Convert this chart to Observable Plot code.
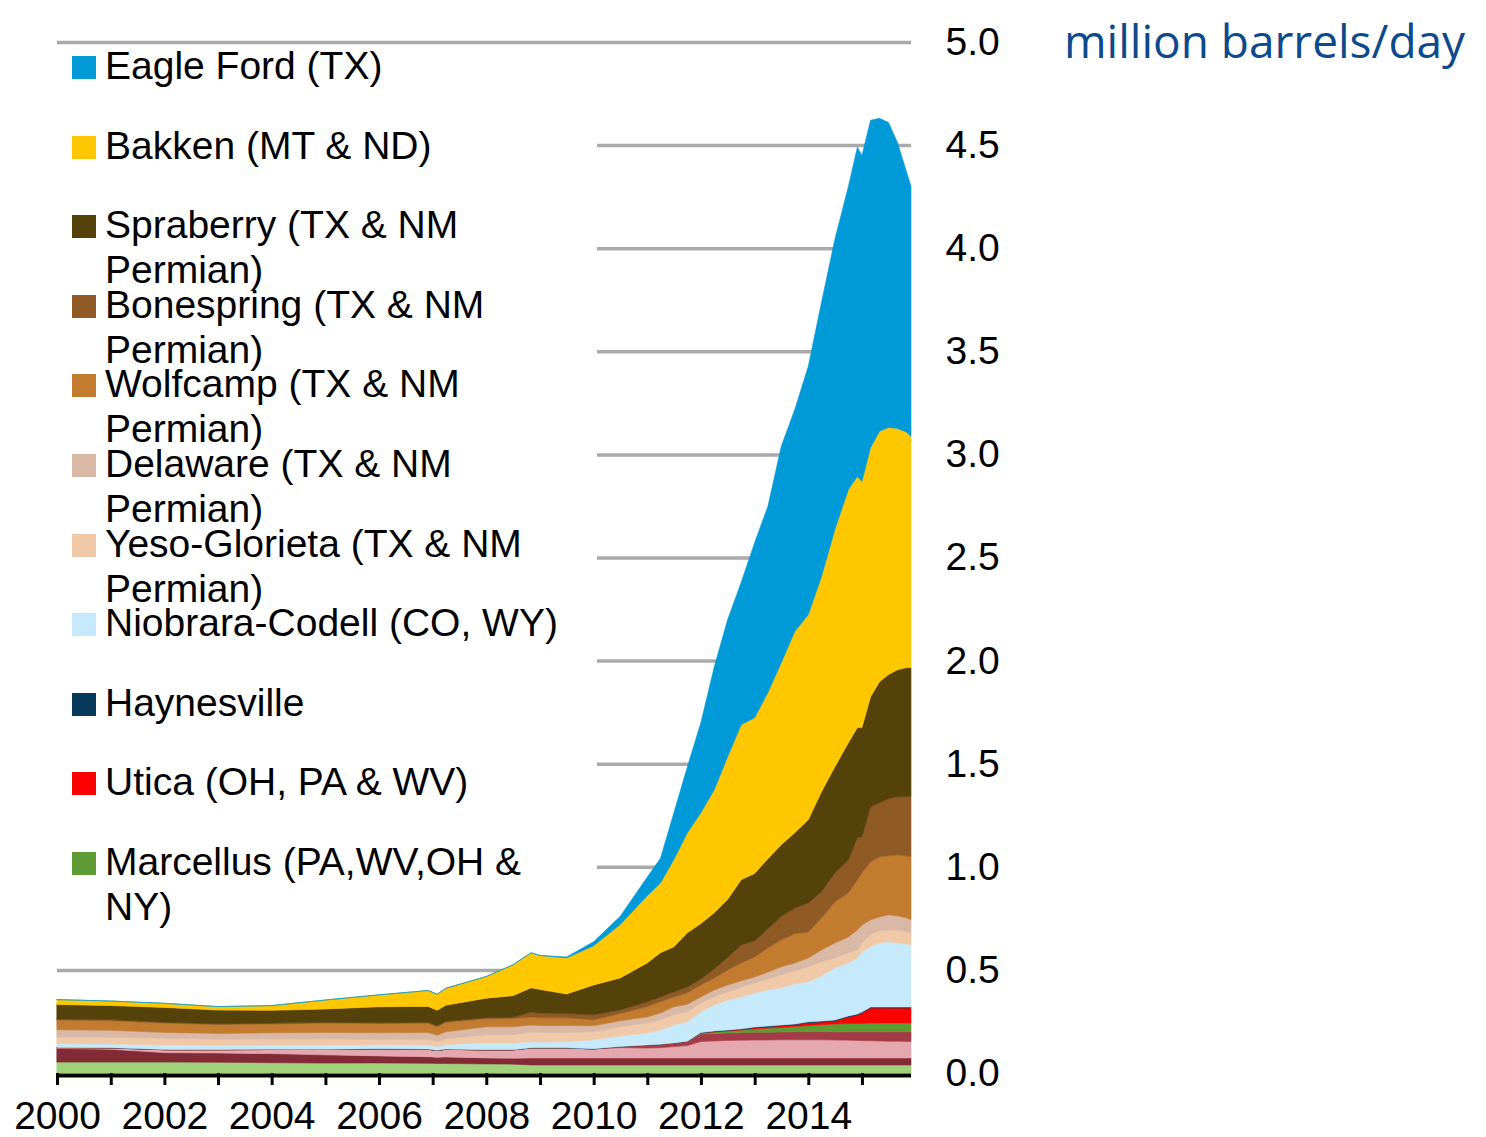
<!DOCTYPE html>
<html>
<head>
<meta charset="utf-8">
<script src="https://cdn.jsdelivr.net/npm/d3@7"></script>
<script src="https://cdn.jsdelivr.net/npm/@observablehq/plot@0.6"></script>
<style>
  body { margin: 0; background: #fff; }
  #wrap { position: relative; width: 1486px; height: 1137px; overflow: hidden; font-family: "Liberation Sans", Arial, sans-serif; }
  #legend { position: absolute; left: 57px; top: 46px; width: 540px; height: 890px; background: #fff; }
  .sw { position: absolute; left: 15px; width: 24px; height: 23px; }
  .lab { position: absolute; left: 48px; width: 475px; font-size: 39px; line-height: 45px; color: #000; }
  #unit { position: absolute; left: 1064px; top: 17px; font-family: "Open Sans", sans-serif; font-size: 46px; line-height: 46px; color: #0c4a8c; white-space: nowrap; }
</style>
</head>
<body>
<div id="wrap">
  <div id="chart"></div>
  <div id="legend"></div>
  <div id="unit">million barrels/day</div>
</div>
<script>
// monthly dates of the sampled points
const dates = ["2000-01","2001-01","2002-01","2003-01","2004-01","2005-01","2006-01","2006-12","2007-02","2007-04",
  "2008-01","2008-07","2008-11","2009-01","2009-07","2010-01","2010-07","2011-01","2011-04","2011-07",
  "2011-10","2012-01","2012-04","2012-07","2012-10","2013-01","2013-04","2013-07","2013-10","2014-01",
  "2014-04","2014-07","2014-10","2014-12","2015-01","2015-03","2015-05","2015-07","2015-09","2015-11","2015-12"];

// stack order, bottom to top
const seriesNames = ["Monterey (CA)","Austin Chalk (LA & TX)","Woodford (OK)","Granite Wash (OK & TX)",
  "Marcellus (PA,WV,OH & NY)","Utica (OH, PA & WV)","Haynesville","Niobrara-Codell (CO, WY)",
  "Yeso-Glorieta (TX & NM Permian)","Delaware (TX & NM Permian)","Wolfcamp (TX & NM Permian)",
  "Bonespring (TX & NM Permian)","Spraberry (TX & NM Permian)","Bakken (MT & ND)","Eagle Ford (TX)"];
const seriesColors = ["#9fd27b","#822a36","#e5a8ae","#a63b48","#5f9b34","#ff0000","#073a5a","#c6eafb",
  "#f0caa8","#d9b8a6","#c27b2f","#8f5a25","#55410a","#fec700","#009ad8"];

// million barrels/day
const monterey = [.053,.053,.053,.052,.05,.048,.049,.047,.046,.046,.044,.043,.039,.039,.039,.039,.039,.039,.039,.039,
  .039,.039,.039,.039,.039,.039,.039,.039,.039,.039,.039,.039,.039,.039,.039,.039,.039,.039,.039,.039,.039];
const austinChalk = [.066,.062,.046,.045,.044,.04,.034,.032,.03,.032,.029,.029,.034,.034,.034,.034,.034,.034,.034,.034,
  .034,.034,.034,.034,.034,.034,.034,.034,.034,.034,.034,.034,.034,.034,.034,.034,.034,.034,.034,.034,.034];
const woodford = [.004,.007,.014,.016,.02,.026,.034,.036,.033,.037,.039,.04,.049,.048,.048,.044,.05,.048,.05,.055,
  .06,.08,.082,.085,.086,.087,.087,.088,.088,.088,.088,.087,.086,.085,.084,.083,.082,.081,.081,.08,.08];
const graniteWash = [0,0,0,0,0,0,0,0,0,0,0,0,0,0,0,0,.005,.014,.016,.017,
  .02,.036,.036,.036,.037,.038,.038,.038,.039,.039,.04,.04,.041,.042,.043,.044,.045,.046,.046,.047,.047];
const marcellus = [0,0,0,0,0,0,0,0,0,0,0,0,0,0,0,0,0,0,0,0,
  0,.005,.008,.01,.012,.015,.02,.022,.025,.03,.033,.038,.04,.04,.04,.042,.043,.043,.043,.043,.043];
const utica = [0,0,0,0,0,0,0,0,0,0,0,0,0,0,0,0,0,0,0,0,
  0,0,.002,.002,.003,.006,.006,.008,.009,.013,.013,.014,.032,.041,.051,.073,.072,.072,.072,.072,.072];
const haynesville = [.001,.001,.001,.001,.001,.001,.001,.001,.001,.001,.001,.001,.001,.001,.001,.001,.001,.001,.001,.001,
  .001,.002,.003,.003,.003,.004,.004,.004,.004,.005,.005,.005,.005,.005,.005,.005,.005,.005,.005,.005,.005];
const niobrara = [.018,.018,.022,.02,.02,.02,.019,.02,.017,.022,.033,.033,.028,.028,.03,.043,.05,.058,.068,.087,
  .095,.10,.126,.145,.155,.165,.175,.18,.194,.194,.219,.253,.257,.272,.291,.292,.311,.316,.311,.306,.301];
const yeso = [.032,.032,.032,.03,.03,.03,.024,.026,.024,.027,.039,.04,.048,.046,.044,.039,.045,.049,.05,.049,
  .048,.044,.039,.039,.048,.049,.053,.063,.063,.073,.068,.048,.049,.039,.045,.058,.058,.058,.063,.058,.059];
const delaware = [.036,.034,.029,.028,.03,.032,.034,.034,.032,.035,.039,.038,.034,.034,.034,.029,.03,.029,.033,.039,
  .037,.029,.034,.034,.03,.029,.034,.039,.039,.043,.058,.073,.077,.097,.086,.073,.068,.073,.068,.068,.063];
const wolfcamp = [.047,.047,.045,.043,.043,.045,.045,.045,.042,.046,.04,.04,.039,.038,.038,.029,.035,.05,.055,.048,
  .055,.058,.058,.073,.087,.097,.117,.131,.141,.126,.155,.199,.214,.243,.253,.281,.292,.286,.296,.301,.306];
const bonespring = [.005,.005,.004,.004,.004,.004,.004,.005,.004,.005,.004,.006,.024,.022,.02,.024,.017,.023,.023,.024,
  .028,.029,.044,.06,.087,.078,.092,.114,.125,.141,.127,.141,.16,.204,.175,.267,.262,.277,.282,.287,.291];
const spraberry = [.07,.068,.072,.066,.062,.064,.077,.077,.075,.078,.095,.105,.117,.115,.095,.145,.155,.189,.214,.219,
  .263,.269,.272,.282,.316,.327,.34,.347,.365,.403,.485,.514,.568,.534,.529,.534,.587,.602,.616,.626,.626];
const bakken = [.024,.022,.02,.017,.023,.044,.058,.077,.078,.082,.105,.15,.17,.165,.175,.19,.259,.326,.339,.424,
  .485,.537,.597,.692,.752,.755,.806,.883,.976,.995,1.044,1.151,1.228,1.218,1.194,1.209,1.214,1.199,1.17,1.141,1.121];
const eagleFord = [0,0,0,0,0,0,0,0,0,0,0,0,0,0,.005,.02,.04,.09,.12,.226,
  .32,.438,.596,.665,.69,.85,.903,1.049,1.077,1.204,1.33,1.408,1.47,1.597,1.581,1.586,1.518,1.479,1.384,1.262,1.213];

const seriesValues = [monterey, austinChalk, woodford, graniteWash, marcellus, utica, haynesville, niobrara,
  yeso, delaware, wolfcamp, bonespring, spraberry, bakken, eagleFord];

// legend entries, top to bottom
const legendNames = ["Eagle Ford (TX)","Bakken (MT & ND)","Spraberry (TX & NM Permian)","Bonespring (TX & NM Permian)",
  "Wolfcamp (TX & NM Permian)","Delaware (TX & NM Permian)","Yeso-Glorieta (TX & NM Permian)",
  "Niobrara-Codell (CO, WY)","Haynesville","Utica (OH, PA & WV)","Marcellus (PA,WV,OH & NY)"];

const yTicks = [0, 0.5, 1, 1.5, 2, 2.5, 3, 3.5, 4, 4.5, 5];
const xTickYears = [2000,2001,2002,2003,2004,2005,2006,2007,2008,2009,2010,2011,2012,2013,2014,2015];
const xLabelYears = [2000,2002,2004,2006,2008,2010,2012,2014];

seriesValues.forEach((arr, i) => {
  if (arr.length !== dates.length) throw new Error("length mismatch for " + seriesNames[i] + ": " + arr.length);
});

const parseDate = d3.utcParse("%Y-%m");
const rows = [];
seriesNames.forEach((name, s) => {
  dates.forEach((d, i) => rows.push({date: parseDate(d), series: name, value: seriesValues[s][i]}));
});

const xTicks = xTickYears.map(y => new Date(Date.UTC(y, 0, 1)));

const chart = Plot.plot({
  width: 1486,
  height: 1137,
  marginLeft: 57,
  marginRight: 575,
  marginTop: 42,
  marginBottom: 64,
  style: {fontFamily: "'Liberation Sans', Arial, sans-serif", fontSize: "39px", color: "#000", background: "transparent", overflow: "visible"},
  x: {type: "utc", domain: [parseDate(dates[0]), parseDate(dates[dates.length - 1])]},
  y: {domain: [0, 5]},
  color: {domain: seriesNames, range: seriesColors},
  marks: [
    Plot.ruleY(yTicks.filter(d => d > 0), {stroke: "#aaaaaa", strokeWidth: 3.5}),
    Plot.areaY(rows, {x: "date", y: "value", z: "series", fill: "series", stroke: "series", strokeWidth: 0.6, order: seriesNames, curve: "linear"}),
    Plot.ruleY([0], {stroke: "#000", strokeWidth: 4, dy: 2}),
    Plot.axisX(xTicks, {tickSize: 12, tickPadding: 16, fontSize: 39, strokeWidth: 3, stroke: "#000", label: null,
      tickFormat: d => xLabelYears.includes(d.getUTCFullYear()) ? String(d.getUTCFullYear()) : ""}),
    Plot.axisY(yTicks, {anchor: "right", tickSize: 0, tickPadding: 34, fontSize: 39, label: null, tickFormat: d => d.toFixed(1)})
  ]
});
document.getElementById("chart").appendChild(chart);

// legend
const legend = document.getElementById("legend");
legendNames.forEach((name, i) => {
  const c = 21 + i * 79.6;
  const sw = document.createElement("div");
  sw.className = "sw";
  sw.style.top = (c - 11) + "px";
  sw.style.background = seriesColors[seriesNames.indexOf(name)];
  legend.appendChild(sw);
  const lab = document.createElement("div");
  lab.className = "lab";
  lab.style.top = (c - 24) + "px";
  lab.textContent = name;
  legend.appendChild(lab);
});
</script>
</body>
</html>
